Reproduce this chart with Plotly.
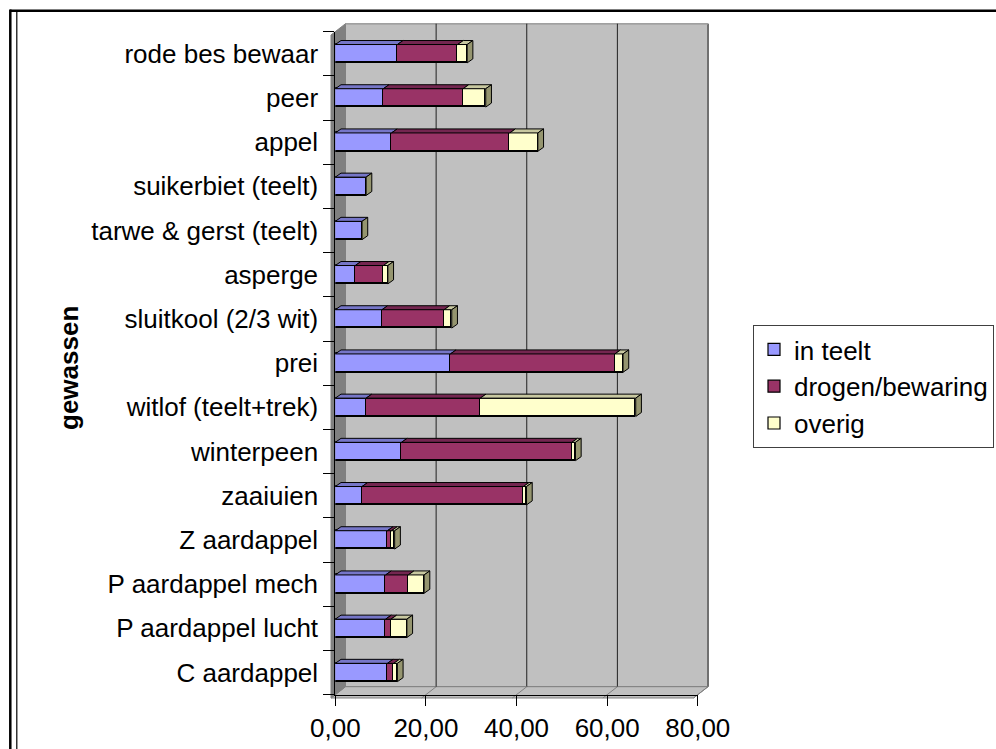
import plotly.graph_objects as go

# Crops, listed from the bottom of the chart to the top
gewassen = [
    "C aardappel", "P aardappel lucht", "P aardappel mech", "Z aardappel",
    "zaaiuien", "winterpeen", "witlof (teelt+trek)", "prei",
    "sluitkool (2/3 wit)", "asperge", "tarwe & gerst (teelt)",
    "suikerbiet (teelt)", "appel", "peer", "rode bes bewaar",
]
in_teelt = [11.5, 11.1, 11.1, 11.5, 5.9, 14.6, 6.8, 25.4, 10.3, 4.4, 5.9, 6.8, 12.4, 10.6, 13.7]
drogen_bewaring = [1.4, 1.2, 5.0, 0.9, 35.6, 37.6, 25.2, 36.3, 13.7, 6.2, 0.0, 0.0, 26.1, 17.6, 13.3]
overig = [0.8, 3.5, 3.5, 0.7, 0.7, 0.8, 34.3, 1.8, 1.7, 1.0, 0.0, 0.0, 6.2, 5.0, 2.1]
x_ticks = [0, 20, 40, 60, 80]
x_ticktext = ["0,00", "20,00", "40,00", "60,00", "80,00"]

series = [
    ("in teelt", in_teelt, "#9999FF", "#7676C8"),
    ("drogen/bewaring", drogen_bewaring, "#993366", "#742650"),
    ("overig", overig, "#FFFFCC", "#C8C8A0"),
]
SIDE_COLOR = "#95956F"

W, H = 996, 749
FONT = "Arial, Liberation Sans, sans-serif"


def px(x):
    return x / W


def py(y):
    return 1 - y / H


# front plane of the 3-D box, depth offset of the back wall, bar plane offset
FX0, FX1, FY0, FY1 = 331.0, 693.5, 35.0, 698.0
DX, DY = 14.5, 11.3
BX, BY = 4.3, 3.4
XMAX = 80.0
BAR_W = 0.415
N = len(gewassen)

fig = go.Figure()

idx = list(range(N))
for name, vals, col, _ in series:
    fig.add_trace(go.Bar(
        y=idx, x=vals, name=name, orientation="h", width=BAR_W,
        marker=dict(color=col, line=dict(color="black", width=1.2)),
        xaxis="x", yaxis="y", hoverinfo="x+name",
    ))

shapes = []


def poly(points, fill, line="#808080", lw=1, layer="below", ref="paper"):
    d = "M " + " L ".join(f"{a},{b}" for a, b in points) + " Z"
    shapes.append(dict(type="path", path=d, fillcolor=fill,
                       line=dict(color=line, width=lw), layer=layer,
                       xref=ref if ref == "paper" else "x",
                       yref=ref if ref == "paper" else "y"))


def seg(x0, y0, x1, y1, color, width, layer="below"):
    shapes.append(dict(type="line", x0=px(x0), y0=py(y0), x1=px(x1), y1=py(y1),
                       xref="paper", yref="paper", layer=layer,
                       line=dict(color=color, width=width)))


# back wall, left side wall and floor
poly([(px(FX0 + DX), py(FY0 - DY)), (px(FX1 + DX), py(FY0 - DY)),
      (px(FX1 + DX), py(FY1 - DY)), (px(FX0 + DX), py(FY1 - DY))], "#C0C0C0")
poly([(px(FX0), py(FY0)), (px(FX0 + DX), py(FY0 - DY)),
      (px(FX0 + DX), py(FY1 - DY)), (px(FX0), py(FY1))], "#808080")
poly([(px(FX0), py(FY1)), (px(FX0 + DX), py(FY1 - DY)),
      (px(FX1 + DX), py(FY1 - DY)), (px(FX1), py(FY1))], "#C0C0C0")
seg(FX1 + DX, FY0 - DY, FX1 + DX, FY1 - DY, "#707070", 2)
seg(FX0 + DX, FY0 - DY, FX1 + DX, FY0 - DY, "#A0A0A0", 1.5)

# gridlines on the back wall and their guides across the floor
for v in x_ticks:
    xf = FX0 + v / XMAX * (FX1 - FX0)
    if 0 < v < XMAX:
        seg(xf + DX, FY0 - DY, xf + DX, FY1 - DY, "#202020", 1)
    seg(xf, FY1, xf + DX, FY1 - DY, "#808080", 1)

# top and end faces of the stacked bars
ddx = 5.7 / ((FX1 - FX0) / XMAX)
ddy = 4.0 / ((FY1 - FY0) / N)
for i in idx:
    start = 0.0
    top = i + BAR_W / 2
    for _, vals, _, top_col in series:
        end = start + vals[i]
        if vals[i] > 0:
            poly([(start, top), (end, top), (end + ddx, top + ddy), (start + ddx, top + ddy)],
                 top_col, line="black", lw=1, layer="above", ref="data")
        start = end
    poly([(start, i - BAR_W / 2), (start, top), (start + ddx, top + ddy),
          (start + ddx, i - BAR_W / 2 + ddy)],
         SIDE_COLOR, line="black", lw=1, layer="above", ref="data")

# outer frame
seg(10, 10.8, 996, 10.8, "black", 2.5, layer="above")
seg(10.3, 9.5, 10.3, 749, "black", 2.5, layer="above")
seg(16.8, 12, 16.8, 749, "black", 1.2, layer="above")

boundaries = [k - 0.5 for k in range(N + 1)]

fig.update_layout(
    width=W, height=H,
    margin=dict(l=0, r=0, t=0, b=0),
    paper_bgcolor="white", plot_bgcolor="rgba(0,0,0,0)",
    barmode="stack", bargap=0,
    font=dict(family=FONT, size=26, color="black"),
    shapes=shapes,
    showlegend=True,
    legend=dict(
        x=px(753), y=py(325), xanchor="left", yanchor="top",
        bgcolor="white", bordercolor="#404040", borderwidth=1,
        font=dict(family=FONT, size=26, color="black"),
        traceorder="normal", itemclick=False,
    ),
    xaxis=dict(
        domain=[px(FX0 + BX), px(FX1 + BX)], range=[0, XMAX],
        showgrid=False, zeroline=False, showticklabels=False, ticks="",
        showline=False, fixedrange=True,
    ),
    yaxis=dict(
        domain=[py(FY1 - BY), py(FY0 - BY)], range=[-0.5, N - 0.5],
        showgrid=False, zeroline=False, showticklabels=False, ticks="",
        showline=False, fixedrange=True,
    ),
    xaxis2=dict(
        domain=[px(FX0), px(FX1)], range=[0, XMAX], anchor="y2", overlaying="x",
        tickvals=x_ticks, ticktext=x_ticktext, ticks="outside", ticklen=10,
        tickcolor="black", tickwidth=1, showline=True, linecolor="black", linewidth=1.2,
        showgrid=False, zeroline=False, tickfont=dict(size=26), fixedrange=True,
        automargin=False,
    ),
    # category boundaries: tick marks only
    yaxis2=dict(
        domain=[py(FY1), py(FY0)], anchor="x2", overlaying="y", range=[-0.5, N - 0.5],
        tickvals=boundaries, ticktext=[""] * len(boundaries),
        ticks="outside", ticklen=11, tickcolor="black", tickwidth=1,
        showline=True, linecolor="black", linewidth=1.2,
        showgrid=False, zeroline=False, fixedrange=True, automargin=False,
    ),
    # category names at the row centres
    yaxis3=dict(
        domain=[py(FY1), py(FY0)], anchor="x2", overlaying="y", range=[-0.5, N - 0.5],
        tickvals=idx, ticktext=gewassen,
        ticks="outside", ticklen=11, tickcolor="rgba(0,0,0,0)",
        showline=False, showgrid=False, zeroline=False, tickfont=dict(size=26),
        fixedrange=True, automargin=False,
    ),
    annotations=[dict(
        text="<b>gewassen</b>", x=px(69), y=py(368), xref="paper", yref="paper",
        xanchor="center", yanchor="middle",
        textangle=-90, showarrow=False, font=dict(family=FONT, size=26, color="black"),
    )],
)

# invisible traces that attach the front axes
fig.add_trace(go.Scatter(x=[None], y=[None], xaxis="x2", yaxis="y2",
                         showlegend=False, hoverinfo="skip"))
fig.add_trace(go.Scatter(x=[None], y=[None], xaxis="x2", yaxis="y3",
                         showlegend=False, hoverinfo="skip"))

fig.write_html("out.html")
